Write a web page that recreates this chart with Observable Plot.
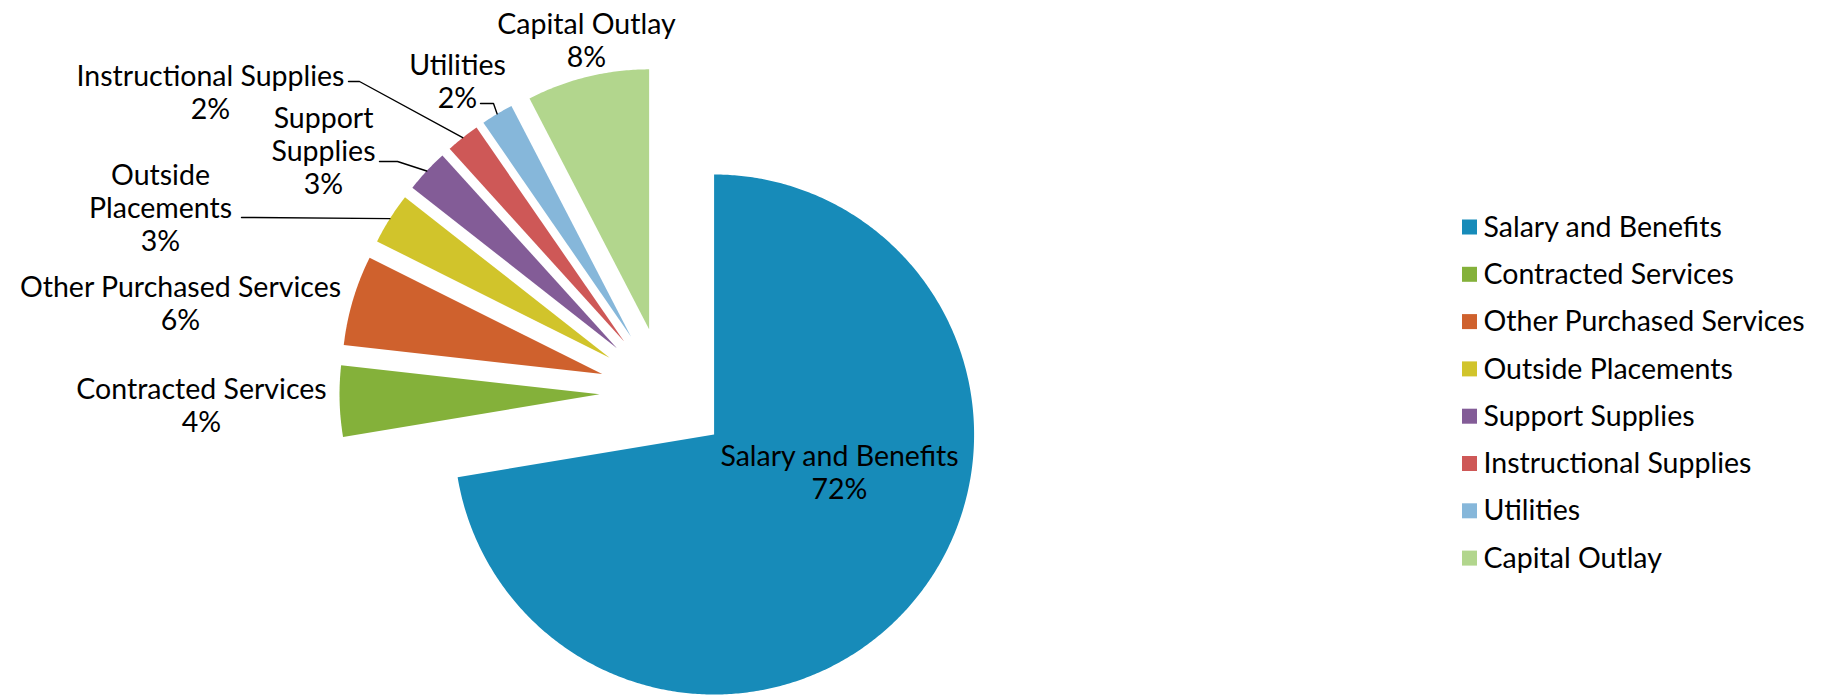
<!DOCTYPE html>
<html>
<head>
<meta charset="utf-8">
<script src="https://cdn.jsdelivr.net/npm/d3@7"></script>
<script src="https://cdn.jsdelivr.net/npm/@observablehq/plot@0.6"></script>
<style>
  html, body { margin: 0; padding: 0; background: #ffffff; }
  #chart svg { display: block; }
</style>
</head>
<body>
<div id="chart"></div>
<script>
// ---- Data ----
const categories = ["Salary and Benefits", "Contracted Services", "Other Purchased Services", "Outside Placements", "Support Supplies", "Instructional Supplies", "Utilities", "Capital Outlay"];
const shares = [72.3, 4.4, 5.6, 3.2, 2.7, 2.1, 2.0, 7.6];
const percentLabels = ["72%", "4%", "6%", "3%", "3%", "2%", "2%", "8%"];
const sliceLabelNames = ["Salary and Benefits", "Contracted Services", "Other Purchased Services", "Outside\nPlacements", "Support\nSupplies", "Instructional Supplies", "Utilities", "Capital Outlay"];
const colors = ["#178BB9", "#84B13A", "#CF612D", "#D1C42B", "#835C97", "#CE5857", "#86B7DA", "#B2D68D"];

// ---- Layout (pixels) ----
const W = 1831, H = 695;
const pieCx = 664, pieCy = 392, pieR = 260, explode = 65;
const fontSize = 28.5, lineH = 33;
// label block centres
const labelPos = [[839, 471], [201, 404], [180, 302], [160, 207], [323, 150], [210, 91], [457, 80], [586, 39]];
// leader lines: [startX, startY, kneeX, kneeY] (end = slice arc midpoint)
const leaderStart = {3: [241, 217, 252, 217], 4: [379, 161, 397, 161], 5: [348, 81, 359, 81], 6: [480, 103, 493, 103]};
const legendX = 1462, legendY0 = 227, legendStep = 47.3, legendBox = 15, legendTextX = 1483;

// ---- Geometry via d3.pie ----
const arcs = d3.pie().sort(null).value(d => d)(shares);
const sliceMarks = [];
const leaderPts = [];
arcs.forEach((p, i) => {
  const mid = (p.startAngle + p.endAngle) / 2;
  const ox = pieCx + explode * Math.sin(mid);
  const oy = pieCy - explode * Math.cos(mid);
  const pts = [{x: ox, y: oy}];
  const n = Math.max(6, Math.ceil((p.endAngle - p.startAngle) / (Math.PI / 360)));
  for (let k = 0; k <= n; k++) {
    const a = p.startAngle + (p.endAngle - p.startAngle) * k / n;
    pts.push({x: ox + pieR * Math.sin(a), y: oy - pieR * Math.cos(a)});
  }
  sliceMarks.push(Plot.line(pts, {x: "x", y: "y", fill: colors[i], stroke: "none"}));
  if (leaderStart[i]) {
    const [sx, sy, kx, ky] = leaderStart[i];
    const ex = ox + pieR * Math.sin(mid), ey = oy - pieR * Math.cos(mid);
    leaderPts.push({id: i, x: sx, y: sy}, {id: i, x: kx, y: ky}, {id: i, x: ex, y: ey});
  }
});

const labels = categories.map((c, i) => ({
  text: sliceLabelNames[i] + "\n" + percentLabels[i],
  x: labelPos[i][0], y: labelPos[i][1]
}));

const legendRows = categories.map((c, i) => ({
  name: c, color: colors[i],
  x1: legendX, x2: legendX + legendBox,
  y1: legendY0 + i * legendStep - legendBox / 2, y2: legendY0 + i * legendStep + legendBox / 2,
  tx: legendTextX, ty: legendY0 + i * legendStep
}));

const chart = Plot.plot({
  width: W, height: H,
  margin: 0,
  x: {domain: [0, W], range: [0, W], axis: null},
  y: {domain: [0, H], range: [0, H], axis: null},
  style: {fontFamily: "Lato, 'Open Sans', sans-serif", background: "#ffffff", color: "#000"},
  marks: [
    ...sliceMarks,
    Plot.line(leaderPts, {x: "x", y: "y", z: "id", stroke: "#000", strokeWidth: 1.4}),
    Plot.text(labels, {x: "x", y: "y", text: "text", fontSize: fontSize, lineHeight: lineH / fontSize, fill: "#000", textAnchor: "middle"}),
    Plot.rect(legendRows, {x1: "x1", x2: "x2", y1: "y1", y2: "y2", fill: "color"}),
    Plot.text(legendRows, {x: "tx", y: "ty", text: "name", fontSize: fontSize, fill: "#000", textAnchor: "start"})
  ]
});
document.getElementById("chart").appendChild(chart);
</script>
</body>
</html>
